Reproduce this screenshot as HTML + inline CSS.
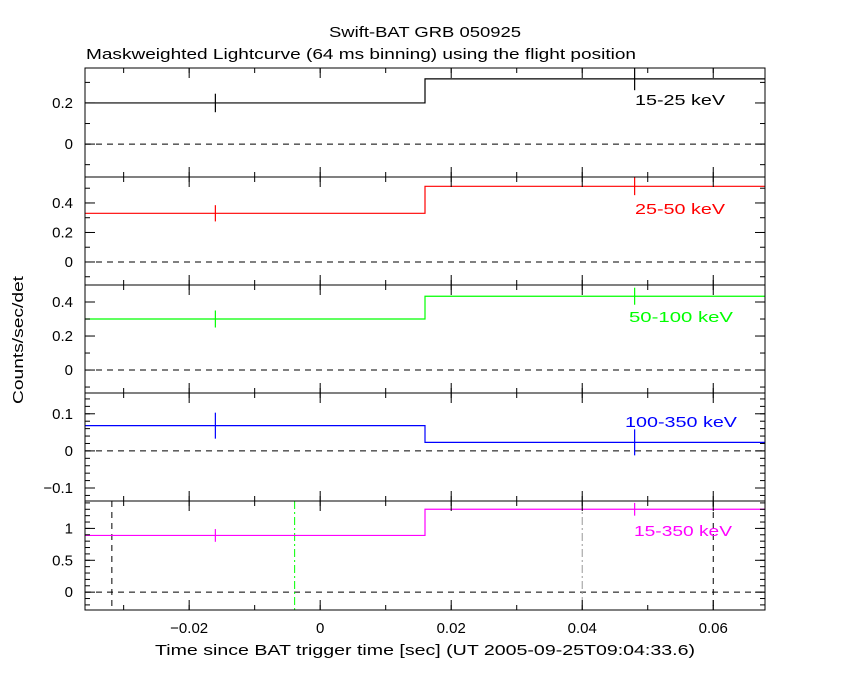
<!DOCTYPE html>
<html><head><meta charset="utf-8"><style>
body{margin:0;background:#fff}
svg{display:block;font-family:"Liberation Sans",sans-serif}
</style></head><body>
<svg id="c" width="850" height="680">
<text x="425" y="37" text-anchor="middle" font-size="15" textLength="192" lengthAdjust="spacingAndGlyphs">Swift-BAT GRB 050925</text>
<text x="86" y="59" font-size="15" textLength="550" lengthAdjust="spacingAndGlyphs">Maskweighted Lightcurve (64 ms binning) using the flight position</text>
<text x="155" y="655" font-size="15" textLength="540" lengthAdjust="spacingAndGlyphs">Time since BAT trigger time [sec] (UT 2005-09-25T09:04:33.6)</text>
<text transform="translate(23,340) rotate(-90)" text-anchor="middle" font-size="15" textLength="128" lengthAdjust="spacingAndGlyphs">Counts/sec/det</text>
</svg>
<script>
const binEdges=[-0.048,0.016,0.080];
const binCenters=[-0.016,0.048];
const bandLabels=["15-25 keV","25-50 keV","50-100 keV","100-350 keV","15-350 keV"];
const bandColors=["#000","#f00","#0f0","#00f","#f0f"];
const rates=[[0.20,0.317],[0.33,0.513],[0.30,0.434],[0.068,0.023],[0.89,1.30]];
const errors=[[0.045,0.055],[0.055,0.06],[0.05,0.05],[0.035,0.035],[0.1,0.1]];
const yRanges=[[-0.16,0.37],[-0.156,0.576],[-0.135,0.50],[-0.135,0.156],[-0.28,1.43]];
const yTicks=[[0,0.2],[0,0.2,0.4],[0,0.2,0.4],[-0.1,0,0.1],[0,0.5,1]];
const yTickLabels=[["0","0.2"],["0","0.2","0.4"],["0","0.2","0.4"],["\u22120.1","0","0.1"],["0","0.5","1"]];
const yMinor=[0.1,0.1,0.1,0.02,0.1];
const xTicks=[-0.02,0,0.02,0.04,0.06];
const xTickLabels=["\u22120.02","0","0.02","0.04","0.06"];
const xMinorStep=0.01;
const vLines=[[-0.0318,"#000","6,5"],[-0.0039,"#0f0","8,3,2,3"],[0.04,"#999","8,3,2,3"],[0.06,"#000","6,5"]];
const X0=85,X1=765,XMIN=-0.0359,XMAX=0.0679;
const panelTops=[68,177,285,393,501],panelBot=610;
const labelX=[635,635,629,625,634],labelW=[90,90,104,112,98];
const svg=document.getElementById('c');const NS='http://www.w3.org/2000/svg';
function xs(v){return X0+(v-XMIN)/(XMAX-XMIN)*(X1-X0);}
function mk(t,a,p){const e=document.createElementNS(NS,t);for(const k in a)e.setAttribute(k,a[k]);(p||svg).appendChild(e);return e;}
function ln(x1,y1,x2,y2,s,w,d){const e=mk('line',{x1,y1,x2,y2,stroke:s,'stroke-width':w||1});if(d)e.setAttribute('stroke-dasharray',d);return e;}
for(let p=0;p<5;p++){
 const top=panelTops[p],bot=p<4?panelTops[p+1]:panelBot;
 const [lo,hi]=yRanges[p];
 const ys=v=>bot-(v-lo)/(hi-lo)*(bot-top);
 ln(X0,ys(0),X1,ys(0),'#000',1,'6,5');
 if(p==4){for(const v of vLines){const l=ln(xs(v[0]),top,xs(v[0]),bot,v[1],1,v[2]);}}
 let d='';for(let i=0;i<rates[p].length;i++){const x1=xs(Math.max(binEdges[i],XMIN)),x2=xs(Math.min(binEdges[i+1],XMAX)),y=ys(rates[p][i]);d+=(i?'L':'M')+x1+','+y+'L'+x2+','+y;}
 const s=mk('path',{d,fill:'none',stroke:bandColors[p],'stroke-width':1.2});
 
 
 for(let i=0;i<binCenters.length;i++){const x=xs(binCenters[i]);const e=ln(x,Math.max(top,ys(rates[p][i]+errors[p][i])),x,Math.min(bot,ys(rates[p][i]-errors[p][i])),bandColors[p],1.2);}
 mk('rect',{x:X0,y:top,width:X1-X0,height:bot-top,fill:'none',stroke:'#000','stroke-width':1});
 for(let v=Math.ceil(lo/yMinor[p])*yMinor[p];v<=hi;v+=yMinor[p]){const y=ys(v);ln(X0,y,X0+5,y,'#000');ln(X1,y,X1-5,y,'#000');}
 yTicks[p].forEach((v,i)=>{const y=ys(v);ln(X0,y,X0+10,y,'#000');ln(X1,y,X1-10,y,'#000');
  const t=mk('text',{x:X0-12,y:y+5,'text-anchor':'end','font-size':15});t.textContent=yTickLabels[p][i];
  });
 for(let v=Math.ceil(XMIN/xMinorStep)*xMinorStep;v<=XMAX;v+=xMinorStep){const x=xs(v);ln(x,top,x,top+5,'#000');ln(x,bot,x,bot-5,'#000');}
 for(const v of xTicks){const x=xs(v);ln(x,top,x,top+10,'#000');ln(x,bot,x,bot-10,'#000');}
 const lb=mk('text',{x:labelX[p],y:top+(p==3?34:p==4?35:37),'font-size':15,fill:bandColors[p],textLength:labelW[p],lengthAdjust:'spacingAndGlyphs'});lb.textContent=bandLabels[p];
 
}
xTicks.forEach((v,i)=>{const t=mk('text',{x:xs(v),y:633,'text-anchor':'middle','font-size':15});t.textContent=xTickLabels[i];
 });
</script>
</body></html>
